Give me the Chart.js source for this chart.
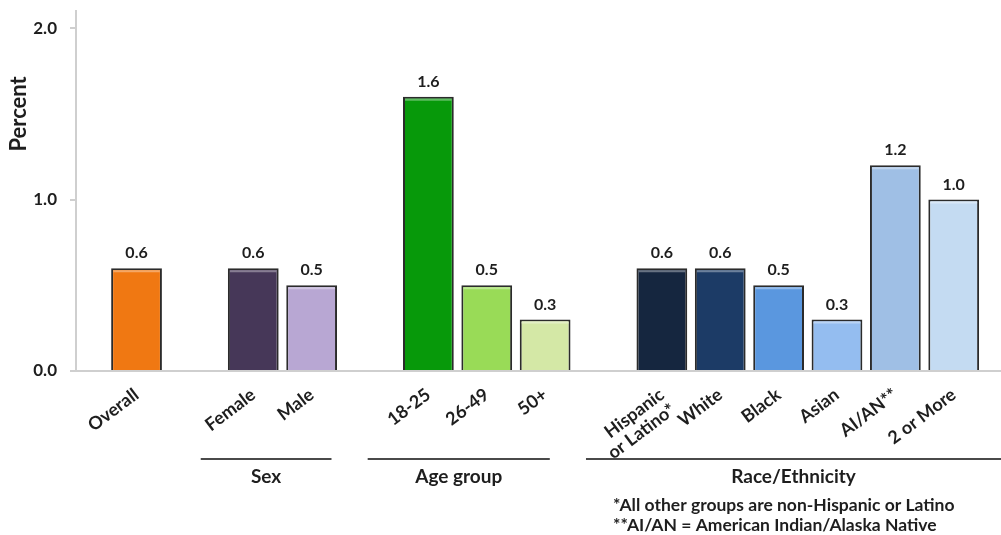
<!DOCTYPE html>
<html>
<head>
<meta charset="utf-8">
<script src="https://cdn.jsdelivr.net/npm/chart.js@4.4.1/dist/chart.umd.min.js"></script>
<style>
  html, body { margin: 0; padding: 0; background: #ffffff; }
  #wrap { width: 1001px; height: 535px; }
</style>
</head>
<body>
<div id="wrap"><canvas id="chart" width="1001" height="535"></canvas></div>
<script>
// Categories shown along the x axis, the group each belongs to, and the percent values
const categories = ['Overall', 'Female', 'Male', '18-25', '26-49', '50+',
  ['Hispanic', 'or Latino*'], 'White', 'Black', 'Asian', 'AI/AN**', '2 or More'];
const groups = ['', 'Sex', 'Sex', 'Age group', 'Age group', 'Age group',
  'Race/Ethnicity', 'Race/Ethnicity', 'Race/Ethnicity', 'Race/Ethnicity', 'Race/Ethnicity', 'Race/Ethnicity'];
const values = [0.6, 0.6, 0.5, 1.6, 0.5, 0.3, 0.6, 0.6, 0.5, 0.3, 1.2, 1.0];
const yTickValues = [0, 1, 2];
const footnotes = ['*All other groups are non-Hispanic or Latino',
  '**AI/AN = American Indian/Alaska Native'];

const barColors = ['#F07812', '#463758', '#B8A7D3', '#07990A', '#99DB57', '#D4E8A6',
  '#15263F', '#1C3B66', '#5A97DF', '#94BDF0', '#9FBFE5', '#C4DBF2'];

// Slot index along the x axis: one empty slot is left between groups
const slots = [];
(function () {
  let s = 0;
  groups.forEach((g, i) => {
    if (i > 0 && g !== groups[i - 1]) s += 1;
    slots.push(s);
    s += 1;
  });
})();

const points = values.map((v, i) => ({ x: slots[i], y: v }));
const FONT = 'Lato, "Open Sans", sans-serif';
const INK = '#1e1e1e';

// Bracket extents (in slot units) for each group, relative to its first/last bar
const bracketSpan = {
  'Sex': [-0.9, 0.34],
  'Age group': [-1.04, 0.08],
  'Race/Ethnicity': [-1.3, 2]
};

function lighten(hex, t) {
  const n = parseInt(hex.slice(1), 16);
  const r = (n >> 16) & 255, g = (n >> 8) & 255, b = n & 255;
  const m = c => Math.round(c + (255 - c) * t);
  return 'rgb(' + m(r) + ',' + m(g) + ',' + m(b) + ')';
}

const valueLabels = {
  id: 'valueLabels',
  afterDatasetsDraw(chart) {
    const ctx = chart.ctx;
    const meta = chart.getDatasetMeta(0);
    ctx.save();
    // soft highlight just under the top edge of each bar
    meta.data.forEach((bar, i) => {
      ctx.strokeStyle = lighten(barColors[i], 0.35);
      ctx.lineWidth = 2;
      ctx.beginPath();
      ctx.moveTo(bar.x - bar.width / 2 + 2, bar.y + 3);
      ctx.lineTo(bar.x + bar.width / 2 - 2, bar.y + 3);
      ctx.stroke();
    });
    ctx.font = 'bold 16px ' + FONT;
    ctx.fillStyle = INK;
    ctx.textAlign = 'center';
    ctx.textBaseline = 'middle';
    meta.data.forEach((bar, i) => {
      ctx.fillText(values[i].toFixed(1), bar.x, bar.y - 15);
    });
    ctx.restore();
  }
};

const groupBrackets = {
  id: 'groupBrackets',
  afterDraw(chart) {
    const ctx = chart.ctx;
    const x = chart.scales.x;
    const y = chart.scales.y;
    const area = chart.chartArea;
    ctx.save();
    // group brackets and their names
    const names = [...new Set(groups.filter(g => g))];
    names.forEach(name => {
      const idx = groups.map((g, i) => g === name ? i : -1).filter(i => i >= 0);
      const span = bracketSpan[name];
      const x0 = x.getPixelForValue(slots[idx[0]] + span[0]);
      const x1 = Math.min(chart.width, x.getPixelForValue(slots[idx[idx.length - 1]] + span[1]));
      const ly = area.bottom + 88;
      ctx.strokeStyle = '#4a4a4a';
      ctx.lineWidth = 2;
      ctx.beginPath();
      ctx.moveTo(x0, ly);
      ctx.lineTo(x1, ly);
      ctx.stroke();
      ctx.font = 'bold 19px ' + FONT;
      ctx.fillStyle = INK;
      ctx.textAlign = 'center';
      ctx.textBaseline = 'middle';
      ctx.fillText(name, (x0 + x1) / 2, area.bottom + 106);
    });
    // footnotes
    ctx.font = 'bold 17.5px ' + FONT;
    ctx.textAlign = 'left';
    ctx.textBaseline = 'middle';
    footnotes.forEach((t, i) => {
      ctx.fillText(t, 613, area.bottom + 134 + i * 20.5);
    });
    // y axis title
    ctx.translate(19, y.getPixelForValue(1.5));
    ctx.rotate(-Math.PI / 2);
    ctx.font = 'bold 22px ' + FONT;
    ctx.textAlign = 'center';
    ctx.fillText('Percent', 0, 0);
    ctx.restore();
  }
};

new Chart(document.getElementById('chart'), {
  type: 'bar',
  data: {
    datasets: [{
      data: points,
      backgroundColor: barColors,
      borderColor: '#2b2b2b',
      borderWidth: 2,
      categoryPercentage: 1,
      barPercentage: 0.87
    }]
  },
  options: {
    responsive: false,
    animation: false,
    devicePixelRatio: 1,
    layout: { padding: { top: 11, left: 0, right: 0, bottom: 0 } },
    plugins: {
      legend: { display: false },
      tooltip: { enabled: false }
    },
    scales: {
      x: {
        type: 'linear',
        offset: false,
        bounds: 'data',
        min: -1.037,
        max: 14.81,
        grid: { display: false },
        border: { display: true, color: '#cfcfcf', width: 2 },
        afterBuildTicks(scale) {
          scale.ticks = slots.map(v => ({ value: v }));
        },
        afterFit(scale) {
          scale.height = 164;
          scale.paddingLeft = 0;
          scale.paddingRight = 0;
        },
        ticks: {
          autoSkip: false,
          minRotation: 37,
          maxRotation: 37,
          padding: 6,
          color: INK,
          font: { family: FONT, size: 18, weight: 'bold', lineHeight: 1.05 },
          callback(v) {
            const i = slots.indexOf(v);
            return i >= 0 ? categories[i] : '';
          }
        }
      },
      y: {
        min: 0,
        max: 2.1,
        grid: { drawOnChartArea: false, drawTicks: true, tickLength: 6, color: '#cfcfcf', lineWidth: 2 },
        border: { display: true, color: '#cfcfcf', width: 2 },
        afterBuildTicks(scale) {
          scale.ticks = yTickValues.map(v => ({ value: v }));
        },
        afterFit(scale) {
          scale.width = 76;
          scale.paddingTop = 0;
          scale.paddingBottom = 0;
        },
        ticks: {
          padding: 13,
          color: INK,
          font: { family: FONT, size: 17, weight: 'bold' },
          callback(v) { return Number(v).toFixed(1); }
        }
      }
    }
  },
  plugins: [valueLabels, groupBrackets]
});
</script>
</body>
</html>
